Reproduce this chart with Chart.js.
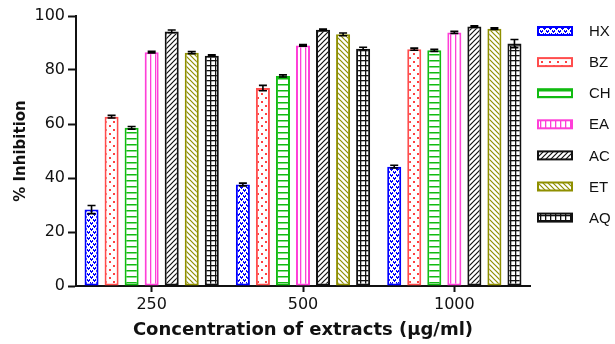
<!DOCTYPE html>
<html>
<head>
<meta charset="utf-8">
<script src="https://cdn.jsdelivr.net/npm/chart.js@4.4.1/dist/chart.umd.min.js"></script>
<style>
  html, body { margin: 0; padding: 0; background: #fff; }
  #wrap { width: 615px; height: 344px; position: relative; }
</style>
</head>
<body>
<div id="wrap"><canvas id="chart"></canvas></div>
<script>
// ==================== DATA ====================
const concentrations = ['250', '500', '1000'];
const extracts = ['HX', 'BZ', 'CH', 'EA', 'AC', 'ET', 'AQ'];

const hxValues = [28.3, 37.6, 44.2];
const bzValues = [62.7, 73.3, 87.7];
const chValues = [58.6, 77.8, 87.3];
const eaValues = [86.6, 89.1, 93.9];
const acValues = [94.3, 94.9, 96.1];
const etValues = [86.4, 93.2, 95.3];
const aqValues = [85.3, 87.9, 89.8];

const hxErr = [1.5, 0.5, 0.5];
const bzErr = [0.5, 1.0, 0.4];
const chErr = [0.5, 0.4, 0.4];
const eaErr = [0.3, 0.3, 0.4];
const acErr = [0.5, 0.3, 0.3];
const etErr = [0.4, 0.5, 0.3];
const aqErr = [0.3, 0.5, 1.5];

const yTicks = [0, 20, 40, 60, 80, 100];

// ==================== PATTERNS ====================
function makePattern(w, h, draw) {
    const c = document.createElement('canvas');
    c.width = w; c.height = h;
    const g = c.getContext('2d');
    g.fillStyle = '#fff';
    g.fillRect(0, 0, w, h);
    draw(g);
    return g.createPattern(c, 'repeat');
}

const patHX = makePattern(6, 6, g => {
    g.fillStyle = '#0000ff';
    // dense little "v" shapes, staggered
    g.fillRect(0, 0, 1, 2); g.fillRect(2, 0, 1, 2); g.fillRect(1, 1, 1, 2);
    g.fillRect(3, 3, 1, 2); g.fillRect(5, 3, 1, 2); g.fillRect(4, 4, 1, 2);
});
const patBZ = makePattern(8, 8, g => {
    g.fillStyle = '#ff4040';
    g.fillRect(1, 1, 2, 2);
    g.fillRect(5, 5, 2, 2);
});
const patCH = makePattern(6, 6, g => {
    g.fillStyle = '#11bb11';
    g.fillRect(0, 0, 6, 1.5);
});
const patEA = makePattern(5, 5, g => {
    g.fillStyle = '#ff3fd8';
    g.fillRect(0, 0, 1.3, 5);
});
const patAC = makePattern(5, 5, g => {
    g.strokeStyle = '#111';
    g.lineWidth = 1.2;
    g.beginPath();
    g.moveTo(-1, 6); g.lineTo(6, -1);
    g.moveTo(-1, 1); g.lineTo(1, -1);
    g.moveTo(4, 6); g.lineTo(6, 4);
    g.stroke();
});
const patET = makePattern(5, 5, g => {
    g.strokeStyle = '#8f8f00';
    g.lineWidth = 1.2;
    g.beginPath();
    g.moveTo(-1, -1); g.lineTo(6, 6);
    g.moveTo(4, -1); g.lineTo(6, 1);
    g.moveTo(-1, 4); g.lineTo(1, 6);
    g.stroke();
});
const patAQ = makePattern(5, 5, g => {
    g.fillStyle = '#111';
    g.fillRect(0, 0, 5, 1.3);
    g.fillRect(0, 0, 1.3, 5);
});

// ==================== DATASETS ====================
const seriesValues = [hxValues, bzValues, chValues, eaValues, acValues, etValues, aqValues];
const seriesErr = [hxErr, bzErr, chErr, eaErr, acErr, etErr, aqErr];
const seriesFill = [patHX, patBZ, patCH, patEA, patAC, patET, patAQ];
const seriesBorder = ['#0000ff', '#ff4d4d', '#11bb11', '#ff3fd8', '#111111', '#8f8f00', '#111111'];

const datasets = extracts.map((name, i) => ({
    label: name,
    data: seriesValues[i],
    errors: seriesErr[i],
    backgroundColor: seriesFill[i],
    borderColor: seriesBorder[i],
    borderWidth: 2,
    borderSkipped: false,
    categoryPercentage: 0.927,
    barPercentage: 0.7
}));

const axisFont = '"DejaVu Sans", Verdana, sans-serif';

// ==================== PLUGINS ====================
// error bars, computed from the errors arrays through the y scale
const errorBars = {
    id: 'errorBars',
    afterDatasetsDraw(chart) {
        const ctx = chart.ctx;
        const y = chart.scales.y;
        ctx.save();
        ctx.strokeStyle = '#000';
        ctx.lineWidth = 1.6;
        chart.data.datasets.forEach((ds, di) => {
            const meta = chart.getDatasetMeta(di);
            meta.data.forEach((bar, i) => {
                const v = ds.data[i], e = ds.errors[i];
                const top = y.getPixelForValue(v + e);
                const bot = y.getPixelForValue(v - e);
                const half = 4;
                ctx.beginPath();
                ctx.moveTo(bar.x, top); ctx.lineTo(bar.x, bot);
                ctx.moveTo(bar.x - half, top); ctx.lineTo(bar.x + half, top);
                ctx.moveTo(bar.x - half, bot); ctx.lineTo(bar.x + half, bot);
                ctx.stroke();
            });
        });
        ctx.restore();
    }
};

// legend on the right, drawn by hand for box / text spacing
const sideLegend = {
    id: 'sideLegend',
    afterDraw(chart) {
        const ctx = chart.ctx;
        ctx.save();
        ctx.font = '15px "Liberation Sans", Arial, sans-serif';
        ctx.textBaseline = 'middle';
        chart.data.datasets.forEach((ds, i) => {
            const cy = 31 + i * 31.1;
            ctx.fillStyle = ds.backgroundColor;
            ctx.fillRect(538, cy - 4, 34, 8);
            ctx.strokeStyle = ds.borderColor;
            ctx.lineWidth = 2;
            ctx.strokeRect(538, cy - 4, 34, 8);
            ctx.fillStyle = '#111';
            ctx.fillText(ds.label, 589, cy + 1);
        });
        ctx.restore();
    }
};

// ==================== CHART ====================
new Chart(document.getElementById('chart'), {
    type: 'bar',
    data: { labels: concentrations, datasets: datasets },
    plugins: [errorBars, sideLegend],
    options: {
        responsive: true,
        maintainAspectRatio: false,
        animation: false,
        layout: { padding: { top: 16, right: 85, bottom: 0, left: 0 } },
        plugins: {
            legend: { display: false },
            tooltip: { enabled: false }
        },
        scales: {
            x: {
                grid: {
                    offset: false,
                    drawOnChartArea: false,
                    tickLength: 6,
                    tickWidth: 2,
                    tickColor: '#111'
                },
                border: { color: '#111', width: 2 },
                ticks: {
                    color: '#111',
                    padding: 3,
                    font: { family: axisFont, size: 16 }
                },
                title: {
                    display: true,
                    text: 'Concentration of extracts (\u00b5g/ml)',
                    color: '#111',
                    padding: { top: 0, bottom: 3 },
                    font: { family: axisFont, size: 18, weight: 'bold' }
                },
                afterFit(scale) { scale.height = 58; }
            },
            y: {
                min: 0,
                max: 100,
                afterBuildTicks(scale) { scale.ticks = yTicks.map(v => ({ value: v })); },
                grid: {
                    drawOnChartArea: false,
                    tickLength: 8,
                    tickWidth: 2,
                    tickColor: '#111'
                },
                border: { color: '#111', width: 2 },
                ticks: {
                    color: '#111',
                    padding: 3,
                    font: { family: axisFont, size: 16 }
                },
                title: {
                    display: true,
                    text: '% Inhibition',
                    color: '#111',
                    padding: { top: 12, bottom: 0 },
                    font: { family: axisFont, size: 15, weight: 'bold' }
                },
                afterFit(scale) { scale.width = 76; }
            }
        }
    }
});
</script>
</body>
</html>
